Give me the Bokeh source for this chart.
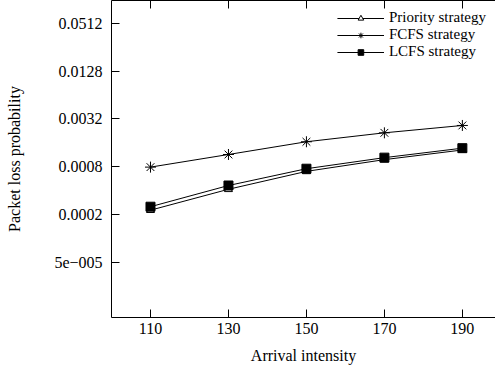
from bokeh.plotting import figure
from bokeh.models import FixedTicker, LinearAxis, Legend, LegendItem, CustomLabelingPolicy
from bokeh.embed import file_html
from bokeh.resources import INLINE

arrival = [110, 130, 150, 170, 190]
priority = [0.000226, 0.000415, 0.000698, 0.000982, 0.00130]
fcfs = [0.00079, 0.00114, 0.00165, 0.00214, 0.00265]
lcfs = [0.00025, 0.000463, 0.000754, 0.00104, 0.00137]

y_ticks = [5e-5, 0.0002, 0.0008, 0.0032, 0.0128, 0.0512]
y_tick_labels = ["5e\u2212005", "0.0002", "0.0008", "0.0032", "0.0128", "0.0512"]
x_ticks = [110, 130, 150, 170, 190]

FONT = "Liberation Serif"
FS = "16px"

p = figure(width=495, height=370, output_backend="svg", toolbar_location=None,
           y_axis_type="log", x_range=(100, 198.5), y_range=(1e-5, 0.1),
           min_border_left=111, min_border_right=0, min_border_top=0, min_border_bottom=53)
p.background_fill_color = "white"
p.border_fill_color = "white"
p.outline_line_color = None
p.xgrid.visible = False
p.ygrid.visible = False

ya = p.yaxis[0]
ya.ticker = FixedTicker(ticks=y_ticks)
ya.major_label_overrides = {t: l for t, l in zip(y_ticks, y_tick_labels)}
xa = p.xaxis[0]
xa.ticker = FixedTicker(ticks=x_ticks)
for ax in (xa, ya):
    ax.major_tick_in = 8
    ax.major_tick_out = 0
    ax.minor_tick_line_color = None
    ax.major_label_text_font = FONT
    ax.major_label_text_font_size = FS
    ax.major_label_text_color = "black"
    ax.axis_label_text_font = FONT
    ax.axis_label_text_font_size = FS
    ax.axis_label_text_font_style = "normal"
    ax.axis_label_text_color = "black"
    ax.axis_line_color = "black"
    ax.major_tick_line_color = "black"
xa.axis_label = "Arrival intensity"
ya.axis_label = "Packet loss probability"
ya.major_label_standoff = 9
xa.major_label_standoff = 5
ya.axis_label_standoff = 28
xa.axis_label_standoff = 10

top = LinearAxis(ticker=FixedTicker(ticks=x_ticks), major_tick_in=8, major_tick_out=0,
                 minor_tick_line_color=None, major_label_standoff=0,
                 major_label_text_font_size="0px", axis_label_standoff=0,
                 major_label_policy=CustomLabelingPolicy(code="return []"),
                 axis_line_color="black", major_tick_line_color="black")
p.add_layout(top, "above")

r1 = p.line(arrival, priority, line_color="black", line_width=1)
m1 = p.scatter(arrival, priority, marker="triangle", size=8, fill_color="white", line_color="black")
r2 = p.line(arrival, fcfs, line_color="black", line_width=1)
m2 = p.scatter(arrival, fcfs, marker="asterisk", size=11, line_color="black")
r3 = p.line(arrival, lcfs, line_color="black", line_width=1)
m3 = p.scatter(arrival, lcfs, marker="square", size=9, fill_color="black", line_color="black")

legend = Legend(items=[
    LegendItem(label="Priority strategy", renderers=[r1, m1]),
    LegendItem(label="FCFS strategy", renderers=[r2, m2]),
    LegendItem(label="LCFS strategy", renderers=[r3, m3]),
], location="top_right")
legend.label_text_font = FONT
legend.label_text_font_size = "15px"
legend.label_text_color = "black"
legend.border_line_color = None
legend.background_fill_alpha = 0
legend.glyph_width = 47
legend.glyph_height = 14
legend.label_height = 14
legend.spacing = 0
legend.padding = 4
legend.margin = 9
p.add_layout(legend)

open("out.html", "w").write(file_html(p, INLINE))
